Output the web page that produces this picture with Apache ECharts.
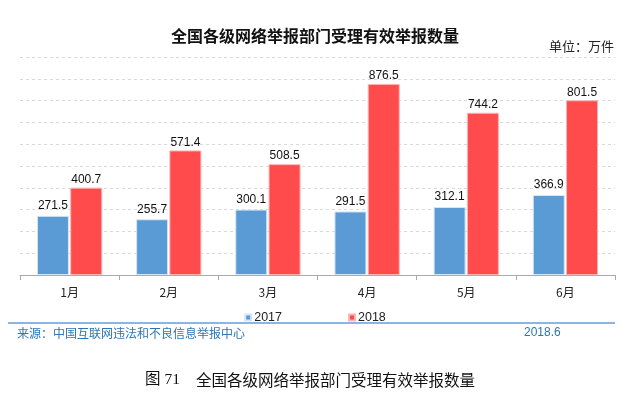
<!DOCTYPE html>
<html><head><meta charset="utf-8">
<script src="https://cdn.jsdelivr.net/npm/echarts@6/dist/echarts.min.js"></script>
<style>html,body{margin:0;padding:0;background:#fff}#c{width:630px;height:394px}</style>
</head><body><div id="c"></div>
<script>
var categories = ['1月','2月','3月','4月','5月','6月'];
var values2017 = [271.5, 255.7, 300.1, 291.5, 312.1, 366.9];
var values2018 = [400.7, 571.4, 508.5, 876.5, 744.2, 801.5];
var seriesNames = ['2017','2018'];

var chart = echarts.init(document.getElementById('c'), null, {renderer:'canvas'});
var font = '"Noto Sans CJK SC", "Liberation Sans", sans-serif';
var latin = '"Liberation Sans", Arial, sans-serif';
chart.setOption({
  animation:false,
  backgroundColor:'#fff',
  title:{text:'全国各级网络举报部门受理有效举报数量', left:'center', top:23,
    textStyle:{fontSize:16, fontWeight:'bold', color:'#111', fontFamily:font}},
  legend:{data:seriesNames, top:306, left:'center', itemWidth:6, itemHeight:6, itemGap:66,
    icon:'rect', textStyle:{fontSize:12.5, color:'#222', fontFamily:latin, padding:[0,0,0,-2]}},
  grid:{left:20, right:15, top:57, bottom:119},
  xAxis:{type:'category', data:categories,
    axisLine:{lineStyle:{color:'#aaa'}}, axisTick:{show:true, lineStyle:{color:'#aaa'}},
    axisLabel:{fontSize:12, color:'#222', margin:11, fontFamily:font}},
  yAxis:{type:'value', min:0, max:1000, interval:100, axisLabel:{show:false},
    axisLine:{show:false}, axisTick:{show:false},
    splitLine:{lineStyle:{color:'#d9d9d9', type:[3,3]}}},
  series:[
    {name:seriesNames[0], type:'bar', data:values2017, barWidth:32, barGap:'4%',
     itemStyle:{color:'#5B9BD5', borderColor:'#d7e6f5', borderWidth:1},
     label:{show:true, position:'top', fontSize:12, color:'#111', distance:4, fontFamily:latin}},
    {name:seriesNames[1], type:'bar', data:values2018, barWidth:32,
     itemStyle:{color:'#FF4B4B', borderColor:'#ffb3b3', borderWidth:1},
     label:{show:true, position:'top', fontSize:12, color:'#111', distance:2, fontFamily:latin}}
  ],
  graphic:[
    {type:'text', right:16, top:40, style:{text:'单位：万件', fontSize:13, fill:'#222', fontFamily:font}},
    {type:'line', shape:{x1:8, y1:323, x2:615, y2:323}, style:{stroke:'#8DB4E2', lineWidth:2}},
    {type:'text', left:17, top:327, style:{text:'来源：中国互联网违法和不良信息举报中心', fontSize:12, fill:'#2E75B6', fontFamily:font}},
    {type:'text', left:524, top:327, style:{text:'2018.6', fontSize:12, fill:'#2E75B6', fontFamily:latin}},
    {type:'text', left:145, top:372, style:{text:'图 71', fontSize:15.5, fill:'#111', fontFamily:'"Liberation Serif", "Noto Sans CJK SC", serif'}},
    {type:'text', left:196, top:372, style:{text:'全国各级网络举报部门受理有效举报数量', fontSize:15.5, fill:'#111', fontFamily:font}}
  ]
});
</script></body></html>
